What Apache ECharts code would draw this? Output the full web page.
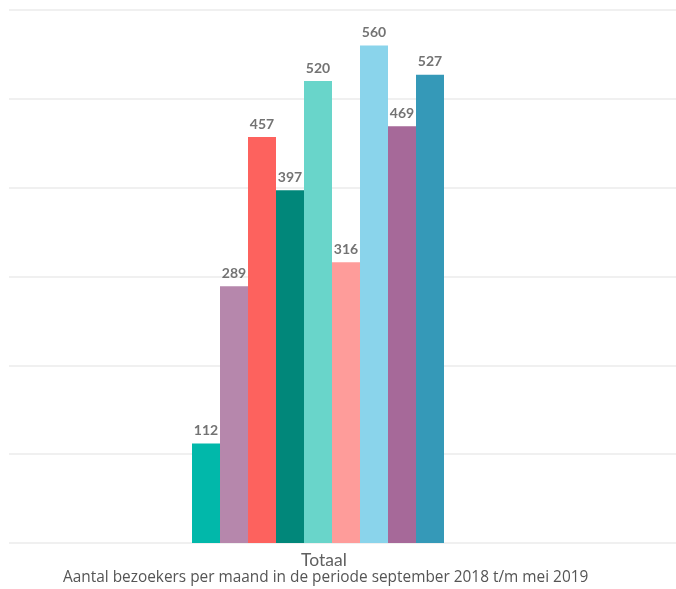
<!DOCTYPE html>
<html>
<head>
<meta charset="utf-8">
<script src="https://cdn.jsdelivr.net/npm/echarts@6/dist/echarts.min.js"></script>
<style>html,body{margin:0;padding:0;background:#fff;}#c{width:676px;height:589px;}</style>
</head>
<body>
<div id="c"></div>
<script>
const categories = ['Totaal'];
const months = ['september 2018','oktober 2018','november 2018','december 2018','januari 2019','februari 2019','maart 2019','april 2019','mei 2019'];
const values = [112, 289, 457, 397, 520, 316, 560, 469, 527];
const colors = ['#01B8AA','#B687AC','#FD625E','#01877A','#69D5CA','#FE9C9A','#8AD4EB','#A66999','#3599B8'];
const yTicks = [0, 100, 200, 300, 400, 500, 600];
const xTitle = 'Aantal bezoekers per maand in de periode september 2018 t/m mei 2019';

const chart = echarts.init(document.getElementById('c'), null, {renderer:'canvas'});
const series = months.map((m, i) => ({
  name: m,
  type: 'bar',
  xAxisIndex: 0,
  yAxisIndex: 0,
  data: [values[i]],
  barWidth: 28,
  barGap: '0%',
  itemStyle: { color: colors[i] },
  label: {
    show: true, position: 'top', distance: 6,
    color: '#737373', fontSize: 14, fontWeight: 'bold',
    fontFamily: 'Lato'
  }
}));
chart.setOption({
  animation: false,
  grid: [
    { left: 9, right: 49, top: 10, bottom: 46 },
    { left: 9, right: 0, top: 10, bottom: 46 }
  ],
  xAxis: [
    { type: 'category', gridIndex: 0, data: categories,
      axisLine: { show: false }, axisTick: { show: false },
      axisLabel: { show: false } },
    { type: 'category', gridIndex: 1, data: categories,
      axisLine: { show: false }, axisTick: { show: false },
      axisLabel: { show: false } }
  ],
  yAxis: [
    { type: 'value', gridIndex: 0, min: yTicks[0], max: yTicks[yTicks.length-1], interval: 100,
      axisLabel: { show: false }, splitLine: { show: false },
      axisLine: { show: false }, axisTick: { show: false } },
    { type: 'value', gridIndex: 1, min: yTicks[0], max: yTicks[yTicks.length-1], interval: 100,
      axisLabel: { show: false },
      splitLine: { show: true, lineStyle: { color: '#EBEBEB', width: 1.5 } },
      axisLine: { show: false }, axisTick: { show: false } }
  ],
  graphic: [
    { type: 'text', x: 301, y: 560, style: { text: categories[0], fill: '#606060', fontSize: 17.5, fontFamily: 'Lato', verticalAlign: 'middle' } },
    { type: 'text', x: 63, y: 578, style: { text: xTitle, fill: '#555', fontSize: 15.4, fontFamily: 'Open Sans', verticalAlign: 'middle' } }
  ],
  series: series
});
</script>
</body>
</html>
